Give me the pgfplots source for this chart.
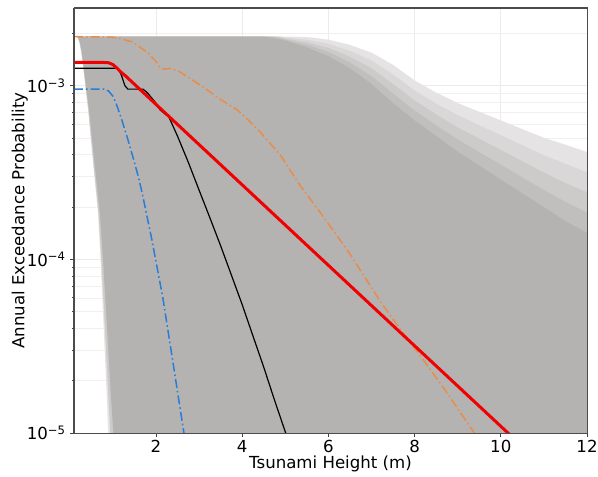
\documentclass[border=0pt]{standalone}
\usepackage{fontspec}
\setmainfont{DejaVu Sans}
\usepackage{pgfplots}
\pgfplotsset{compat=1.18}

\definecolor{grayA}{RGB}{229,227,227}
\definecolor{grayB}{RGB}{217,215,215}
\definecolor{grayC}{RGB}{205,202,202}
\definecolor{grayD}{RGB}{193,190,190}
\definecolor{grayE}{RGB}{181,178,178}
\definecolor{hazred}{RGB}{240,0,0}
\definecolor{hazorange}{RGB}{235,140,70}
\definecolor{hazblue}{RGB}{40,125,215}

\tikzset{dashdotmpl/.style={dash pattern=on 4.5pt off 1.5pt on 0.8pt off 1.5pt}}

\begin{document}
\fontsize{8.3}{10}\selectfont
\begin{tikzpicture}
\begin{axis}[
    scale only axis, width=256.5pt, height=212.5pt,
    xmin=0.1, xmax=12, ymin=1e-5, ymax=2.8e-3,
    ymode=log,
    xtick={2,4,6,8,10,12},
    ytick={1e-5,1e-4,1e-3},
    yticklabels={10\textsuperscript{−5},10\textsuperscript{−4},10\textsuperscript{−3}},
    minor ytick={2e-5,3e-5,4e-5,5e-5,6e-5,7e-5,8e-5,9e-5,
                 2e-4,3e-4,4e-4,5e-4,6e-4,7e-4,8e-4,9e-4,2e-3},
    minor x tick num=0,
    /pgf/number format/assume math mode=true,
    tick align=outside, tick pos=left,
    major tick length=2pt, minor tick length=1.2pt,
    grid=both,
    major grid style={black!8, line width=0.4pt},
    minor grid style={black!6, line width=0.3pt},
    axis line style={black!70, line width=0.5pt},
    every tick/.style={black!75, line width=0.4pt},
    tick label style={font=\fontsize{8.3}{10}\selectfont},
    xticklabel style={yshift=1.5pt},
    yticklabel style={xshift=1pt},
    label style={font=\fontsize{8.3}{10}\selectfont},
    xlabel={Tsunami Height (m)},
    ylabel={Annual Exceedance Probability},
    xlabel style={yshift=4pt},
    ylabel style={yshift=-6.3pt},
]
% envelope of the simulated hazard curves, outer (faint) to dense
\addplot[draw=none, fill=grayA] coordinates {
 (0.90,7.94e-6) (0.89,1.047e-5) (0.86,1.622e-5) (0.79,3.98e-5) (0.72,9.55e-5)
 (0.655,1.862e-4) (0.54,3.63e-4) (0.43,7.08e-4) (0.315,1.259e-3) (0.26,1.585e-3)
 (0.22,1.778e-3) (0.17,1.919e-3) (5.0,1.919e-3) (5.5,1.905e-3) (6.0,1.841e-3)
 (6.5,1.718e-3) (7.0,1.549e-3) (7.5,1.318e-3) (8.0,1.072e-3) (8.5,9.12e-4)
 (9.0,7.94e-4) (9.5,7.08e-4) (10.0,6.31e-4) (10.5,5.62e-4) (11.0,5.01e-4)
 (11.5,4.57e-4) (12.1,4.07e-4) (12.1,7.94e-6)} -- cycle;
\addplot[draw=none, fill=grayB] coordinates {
 (0.96,7.94e-6) (0.94,1.047e-5) (0.90,1.622e-5) (0.82,3.98e-5) (0.74,9.55e-5)
 (0.67,1.862e-4) (0.55,3.63e-4) (0.44,7.08e-4) (0.32,1.259e-3) (0.27,1.585e-3)
 (0.23,1.778e-3) (0.18,1.919e-3) (4.9,1.919e-3) (5.0,1.892e-3) (5.5,1.841e-3)
 (6.0,1.742e-3) (6.5,1.589e-3) (7.0,1.396e-3) (7.5,1.161e-3) (8.0,9.38e-4)
 (8.5,7.89e-4) (9.0,6.76e-4) (9.5,5.92e-4) (10.0,5.19e-4) (10.5,4.54e-4)
 (11.0,3.98e-4) (11.5,3.55e-4) (12.1,3.10e-4) (12.1,7.94e-6)} -- cycle;
\addplot[draw=none, fill=grayC] coordinates {
 (0.96,7.94e-6) (0.94,1.047e-5) (0.90,1.622e-5) (0.82,3.98e-5) (0.74,9.55e-5)
 (0.67,1.862e-4) (0.55,3.63e-4) (0.44,7.08e-4) (0.32,1.259e-3) (0.27,1.585e-3)
 (0.23,1.778e-3) (0.18,1.919e-3) (4.8,1.919e-3) (5.0,1.866e-3) (5.5,1.778e-3)
 (6.0,1.648e-3) (6.5,1.469e-3) (7.0,1.259e-3) (7.5,1.023e-3) (8.0,8.22e-4)
 (8.5,6.84e-4) (9.0,5.75e-4) (9.5,4.95e-4) (10.0,4.27e-4) (10.5,3.67e-4)
 (11.0,3.16e-4) (11.5,2.75e-4) (12.1,2.37e-4) (12.1,7.94e-6)} -- cycle;
\addplot[draw=none, fill=grayD] coordinates {
 (1.04,7.94e-6) (1.01,1.047e-5) (0.96,1.622e-5) (0.87,3.98e-5) (0.78,9.55e-5)
 (0.70,1.862e-4) (0.575,3.63e-4) (0.455,7.08e-4) (0.33,1.259e-3) (0.28,1.585e-3)
 (0.24,1.778e-3) (0.19,1.919e-3) (4.7,1.919e-3) (5.0,1.845e-3) (5.5,1.718e-3)
 (6.0,1.563e-3) (6.5,1.361e-3) (7.0,1.135e-3) (7.5,9.02e-4) (8.0,7.19e-4)
 (8.5,5.92e-4) (9.0,4.90e-4) (9.5,4.14e-4) (10.0,3.51e-4) (10.5,2.96e-4)
 (11.0,2.51e-4) (11.5,2.14e-4) (12.1,1.81e-4) (12.1,7.94e-6)} -- cycle;
\addplot[draw=none, fill=grayE] coordinates {
 (1.04,7.94e-6) (1.01,1.047e-5) (0.96,1.622e-5) (0.87,3.98e-5) (0.78,9.55e-5)
 (0.70,1.862e-4) (0.575,3.63e-4) (0.455,7.08e-4) (0.33,1.259e-3) (0.28,1.585e-3)
 (0.24,1.778e-3) (0.19,1.919e-3) (4.5,1.919e-3) (5.0,1.820e-3) (5.5,1.660e-3)
 (6.0,1.479e-3) (6.5,1.259e-3) (7.0,1.023e-3) (7.5,7.94e-4) (8.0,6.31e-4)
 (8.5,5.13e-4) (9.0,4.17e-4) (9.5,3.47e-4) (10.0,2.88e-4) (10.5,2.40e-4)
 (11.0,2.00e-4) (11.5,1.66e-4) (12.1,1.38e-4) (12.1,7.94e-6)} -- cycle;

% upper percentile
\addplot[hazorange, line width=0.75pt, dashdotmpl] coordinates {
 (0.1,1.914e-3) (0.96,1.905e-3) (1.2,1.862e-3) (1.47,1.778e-3) (1.81,1.549e-3)
 (2.0,1.380e-3) (2.11,1.259e-3) (2.2,1.245e-3) (2.35,1.259e-3) (2.55,1.202e-3)
 (2.74,1.122e-3) (3.11,9.77e-4) (3.5,8.32e-4) (3.89,7.24e-4) (4.15,6.31e-4)
 (4.43,5.37e-4) (4.89,3.98e-4) (5.36,2.63e-4) (5.9,1.738e-4) (6.45,1.122e-4)
 (7.2,5.75e-5) (7.6,4.17e-5) (8.06,2.95e-5) (8.7,1.778e-5) (9.36,1.023e-5)
 (9.5,9.0e-6)};
% lower percentile
\addplot[hazblue, line width=0.75pt, dashdotmpl] coordinates {
 (0.1,9.55e-4) (0.8,9.55e-4) (0.9,9.33e-4) (1.0,8.71e-4) (1.07,8.0e-4)
 (1.2,6.46e-4) (1.35,4.90e-4) (1.5,3.63e-4) (1.61,2.88e-4) (1.7,2.29e-4)
 (1.9,1.32e-4) (2.16,6.03e-5) (2.4,2.51e-5) (2.65,1.0e-5) (2.72,8.0e-6)};
% median
\addplot[black, line width=0.6pt] coordinates {
 (0.1,1.259e-3) (1.12,1.259e-3) (1.2,1.15e-3) (1.28,1.0e-3) (1.35,9.55e-4)
 (1.70,9.55e-4) (1.8,9.12e-4) (1.9,8.51e-4) (2.0,7.94e-4) (2.1,7.24e-4)
 (2.3,6.61e-4) (2.5,5.13e-4) (2.75,3.63e-4) (3.0,2.51e-4) (3.25,1.74e-4)
 (3.5,1.20e-4) (3.75,8.13e-5) (4.0,5.50e-5) (4.25,3.63e-5) (4.5,2.40e-5)
 (4.75,1.55e-5) (5.01,1.0e-5) (5.15,8.0e-6)};
% mean
\addplot[hazred, line width=1.5pt] coordinates {
 (0.1,1.36e-3) (0.8,1.36e-3) (0.9,1.355e-3) (1.0,1.324e-3) (1.1,1.26e-3)
 (1.2,1.19e-3) (1.3,1.135e-3) (10.6,7.94e-6)};
\end{axis}
% frame again, over the filled envelope
\draw[black!70, line width=0.5pt] (current axis.south west) rectangle (current axis.north east);
\path (current axis.south west) ++(-37pt,-21.5pt) coordinate (bbsw);
\path (current axis.north east) ++(5.5pt,4pt) coordinate (bbne);
\pgfresetboundingbox
\path (bbsw) rectangle (bbne);
\end{tikzpicture}
\end{document}
